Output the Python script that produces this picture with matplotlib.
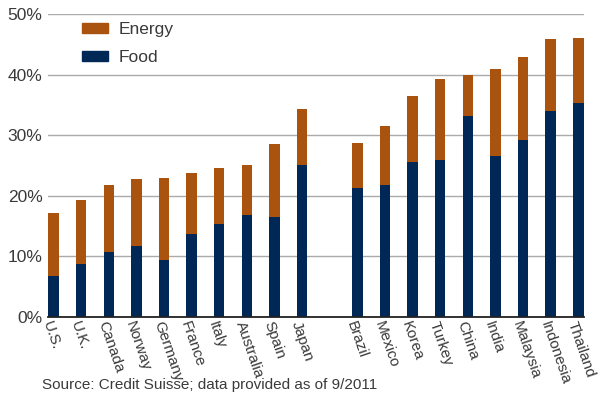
import numpy as np
import matplotlib
matplotlib.use('Agg')
import matplotlib.pyplot as plt
from matplotlib.ticker import PercentFormatter
from matplotlib.patches import Patch

plt.rcParams['font.family'] = ['Liberation Sans', 'DejaVu Sans']

developed = ['U.S.', 'U.K.', 'Canada', 'Norway', 'Germany', 'France',
             'Italy', 'Australia', 'Spain', 'Japan']
emerging = ['Brazil', 'Mexico', 'Korea', 'Turkey', 'China', 'India',
            'Malaysia', 'Indonesia', 'Thailand']

# share of consumer spending, percent
food_dev = [6.8, 8.7, 10.7, 11.7, 9.4, 13.7, 15.3, 16.9, 16.5, 25.1]
energy_dev = [10.4, 10.6, 11.0, 11.0, 13.5, 10.0, 9.3, 8.2, 12.0, 9.2]
food_em = [21.3, 21.8, 25.6, 25.9, 33.2, 26.6, 29.2, 34.0, 35.3]
energy_em = [7.4, 9.7, 10.9, 13.3, 6.7, 14.4, 13.7, 11.9, 10.8]

ENERGY_C = '#a9530f'
FOOD_C = '#002856'
TEXT_C = '#3a3a3a'

# leave one empty slot between the two country groups
x = np.r_[np.arange(len(developed)), np.arange(len(emerging)) + len(developed) + 1]
labels = developed + emerging
food = np.array(food_dev + food_em)
energy = np.array(energy_dev + energy_em)

fig = plt.figure(figsize=(6, 4), dpi=100)
ax = fig.add_axes([0.08, 0.2075, 0.893, 0.7575])

w = 0.38
ax.bar(x, food, width=w, color=FOOD_C, zorder=3)
ax.bar(x, energy, width=w, bottom=food, color=ENERGY_C, zorder=3)

ax.set_ylim(0, 50)
ax.set_xlim(-0.2, 19.2)
ax.set_yticks(np.arange(0, 51, 10))
ax.yaxis.set_major_formatter(PercentFormatter(decimals=0))
ax.grid(axis='y', color='#aaaaaa', linewidth=1, zorder=0)
for s in ['top', 'right', 'left']:
    ax.spines[s].set_visible(False)
ax.spines['bottom'].set_color('#222222')
ax.spines['bottom'].set_linewidth(1.3)
ax.spines['bottom'].set_zorder(4)
ax.tick_params(axis='both', length=0, labelsize=12.5, colors=TEXT_C, pad=4)

ax.set_xticks(x)
ax.set_xticklabels(labels, rotation=-71, ha='left', va='top',
                   rotation_mode='anchor', fontsize=11, color=TEXT_C)
ax.tick_params(axis='x', pad=2)

handles = [Patch(color=ENERGY_C, label='Energy'),
           Patch(color=FOOD_C, label='Food')]
ax.legend(handles=handles, loc='upper left', bbox_to_anchor=(0.035, 1.025),
          frameon=False, fontsize=12.5, handlelength=1.5, handleheight=0.5,
          handletextpad=0.6, labelspacing=0.75, labelcolor=TEXT_C)

fig.text(0.07, 0.028, 'Source: Credit Suisse; data provided as of 9/2011',
         fontsize=11, color=TEXT_C)

fig.savefig('out.png', dpi=100)
